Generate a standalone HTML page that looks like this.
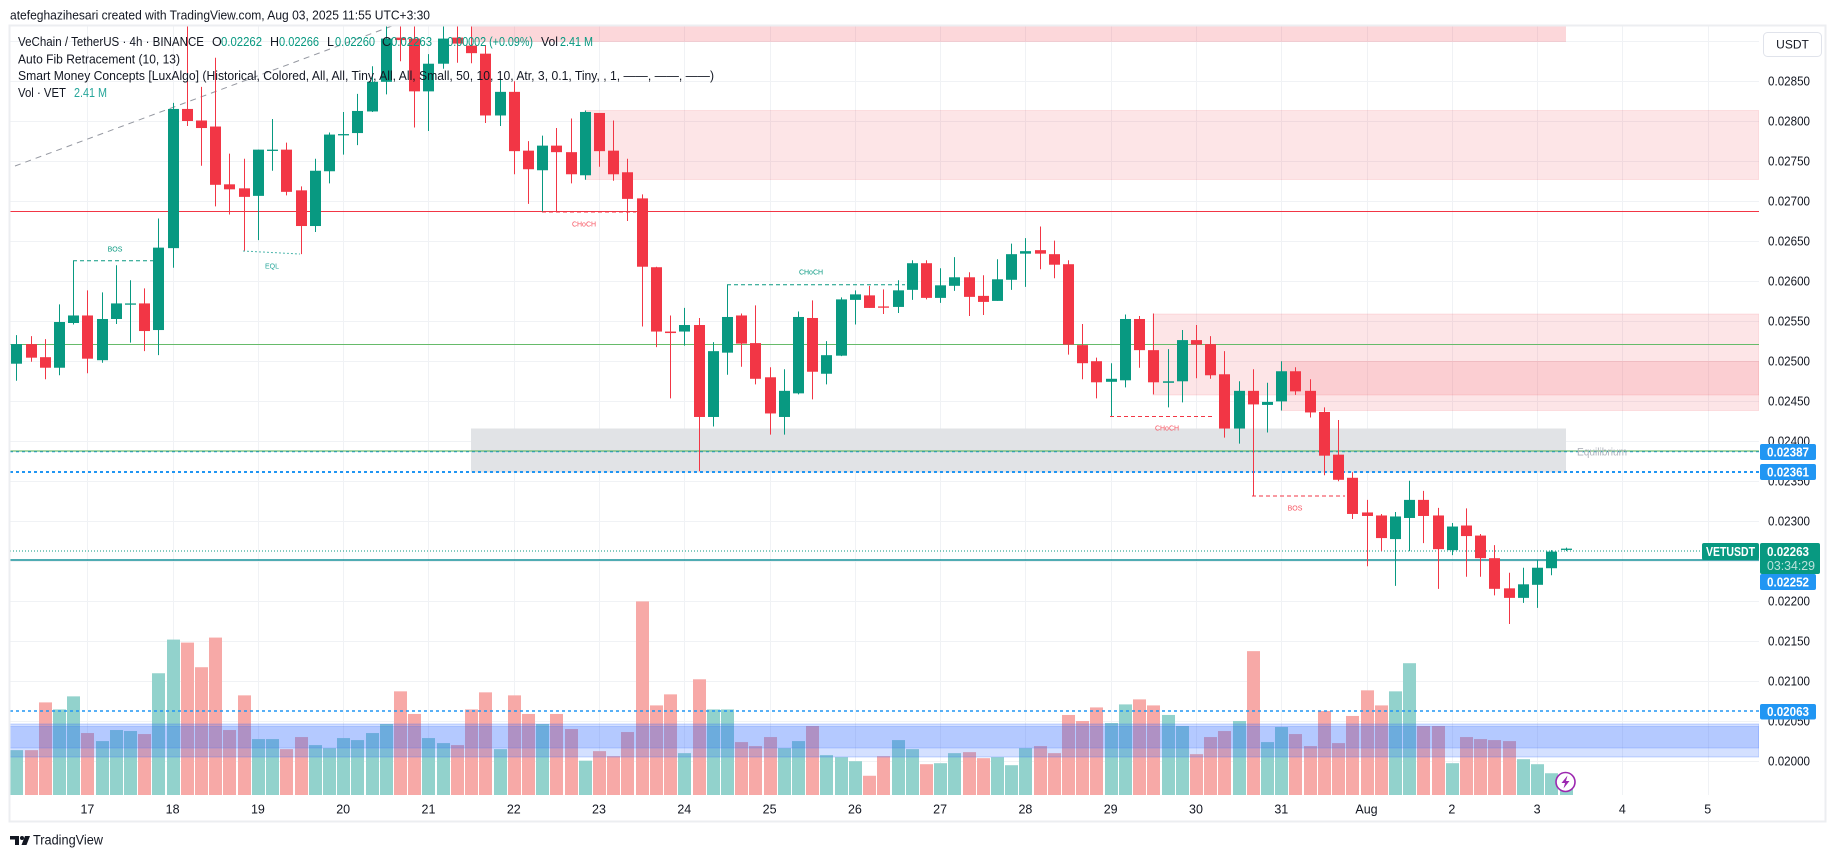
<!DOCTYPE html>
<html><head><meta charset="utf-8">
<style>
html,body{margin:0;padding:0;background:#fff;}
svg{display:block;font-family:"Liberation Sans",sans-serif;}
</style></head><body>
<svg id="s" width="1835" height="858" viewBox="0 0 1835 858" xmlns="http://www.w3.org/2000/svg">
<defs><clipPath id="cp"><rect x="10" y="26" width="1749" height="769"/></clipPath></defs>
<rect width="1835" height="858" fill="#fff"/>
<g id="grid"></g>
<g clip-path="url(#cp)">
  <!-- zones -->
  <rect x="472" y="26" width="1094" height="16" fill="rgba(242,54,69,0.2)"/>
  <rect x="585" y="110.5" width="1174" height="69" fill="rgba(242,54,69,0.13)" stroke="rgba(242,54,69,0.12)"/>
  <rect x="1153" y="314" width="606" height="81" fill="rgba(242,54,69,0.13)" stroke="rgba(242,54,69,0.12)"/>
  <rect x="1281" y="361.5" width="478" height="49" fill="rgba(242,54,69,0.13)" stroke="rgba(242,54,69,0.12)"/>
  <rect x="471" y="428.5" width="1095" height="44" fill="#e1e3e6"/>
  <g id="vol"></g>
  <rect x="10" y="724" width="1749" height="33" fill="rgba(41,98,255,0.2)" stroke="rgba(41,98,255,0.25)"/>
  <rect x="10" y="726.5" width="1749" height="21.5" fill="rgba(41,98,255,0.18)" stroke="rgba(41,98,255,0.2)"/>
  <!-- horizontal lines -->
  <line x1="10" x2="1759" y1="211.5" y2="211.5" stroke="#f23645" stroke-width="1"/>
  <line x1="10" x2="1759" y1="344.5" y2="344.5" stroke="#66bb6a" stroke-width="1"/>
  <line x1="10" x2="1759" y1="451.5" y2="451.5" stroke="#2196f3" stroke-width="1.5" stroke-dasharray="3 3"/>
  <line x1="10" x2="1759" y1="451" y2="451" stroke="#4caf50" stroke-width="1"/>
  <line x1="10" x2="1759" y1="472" y2="472" stroke="#2196f3" stroke-width="2" stroke-dasharray="3 3"/>
  <line x1="10" x2="1702" y1="551" y2="551" stroke="#089981" stroke-width="1" stroke-dasharray="1 2"/>
  <line x1="10" x2="1759" y1="560" y2="560" stroke="#16909a" stroke-width="1.5"/>
  <line x1="10" x2="1759" y1="711" y2="711" stroke="#2196f3" stroke-width="1.5" stroke-dasharray="3 3"/>
  <!-- fib line -->
  <line x1="15" y1="166" x2="392" y2="26" stroke="#9598a1" stroke-width="1" stroke-dasharray="6 5"/>
  <g id="cdl"></g>
  <!-- SMC structures -->
  <line x1="73" x2="154" y1="260.7" y2="260.7" stroke="#089981" stroke-dasharray="4 3"/>
  <line x1="243" x2="300" y1="251" y2="254" stroke="#4db6ac" stroke-dasharray="2 2"/>
  <line x1="542" x2="636" y1="212" y2="212" stroke="#f23645" stroke-dasharray="4 3"/>
  <line x1="727" x2="905" y1="284.8" y2="284.8" stroke="#089981" stroke-dasharray="4 3"/>
  <line x1="1110" x2="1214" y1="416.5" y2="416.5" stroke="#f23645" stroke-dasharray="4 3"/>
  <line x1="1252" x2="1345" y1="496" y2="496" stroke="#f23645" stroke-dasharray="4 3"/>
  <g font-size="7" text-anchor="middle">
    <text x="115" y="251.5" fill="#089981">BOS</text>
    <text x="272" y="268.5" fill="#26a69a">EQL</text>
    <text x="584" y="226.5" fill="#f7525f">CHoCH</text>
    <text x="811" y="274.5" fill="#089981">CHoCH</text>
    <text x="1167" y="430.5" fill="#f7525f">CHoCH</text>
    <text x="1295" y="510.5" fill="#f7525f">BOS</text>
  </g>
  <text x="1577" y="455.5" font-size="11" fill="#b2b5be" textLength="50" lengthAdjust="spacingAndGlyphs">Equilibrium</text>
  <!-- lightning icon -->
  <circle cx="1565.5" cy="782" r="9.5" fill="#fff" stroke="#9c27b0" stroke-width="1.6"/>
  <path d="M1567.5 775.5 L1561.5 783 L1565 783 L1563.5 788.5 L1569.5 781 L1566 781 Z" fill="#9c27b0"/>
</g>
<!-- chart border -->
<rect x="9.5" y="25.5" width="1816" height="796" fill="none" stroke="#eceef1" stroke-width="2"/>

<!-- header -->
<text x="10" y="19.5" font-size="13" fill="#131722" textLength="420" lengthAdjust="spacingAndGlyphs">atefeghazihesari created with TradingView.com, Aug 03, 2025 11:55 UTC+3:30</text>

<!-- legend -->
<g font-size="12.5" lengthAdjust="spacingAndGlyphs">
  <text x="18" y="46" fill="#131722" textLength="186" lengthAdjust="spacingAndGlyphs">VeChain / TetherUS · 4h · BINANCE</text>
  <text x="212" y="46" fill="#131722">O</text>
  <text x="221" y="46" fill="#089981" textLength="41" lengthAdjust="spacingAndGlyphs">0.02262</text>
  <text x="270" y="46" fill="#131722">H</text>
  <text x="279" y="46" fill="#089981" textLength="40" lengthAdjust="spacingAndGlyphs">0.02266</text>
  <text x="327" y="46" fill="#131722">L</text>
  <text x="335" y="46" fill="#089981" textLength="40" lengthAdjust="spacingAndGlyphs">0.02260</text>
  <text x="382" y="46" fill="#131722">C</text>
  <text x="391" y="46" fill="#089981" textLength="41" lengthAdjust="spacingAndGlyphs">0.02263</text>
  <text x="441" y="46" fill="#089981" textLength="92" lengthAdjust="spacingAndGlyphs">+0.00002 (+0.09%)</text>
  <text x="541" y="46" fill="#131722" textLength="17" lengthAdjust="spacingAndGlyphs">Vol</text>
  <text x="560" y="46" fill="#089981" textLength="33" lengthAdjust="spacingAndGlyphs">2.41 M</text>
  <text x="18" y="63.5" fill="#131722" textLength="162" lengthAdjust="spacingAndGlyphs">Auto Fib Retracement (10, 13)</text>
  <text x="18" y="80" fill="#131722" textLength="696" lengthAdjust="spacingAndGlyphs">Smart Money Concepts [LuxAlgo] (Historical, Colored, All, All, Tiny, All, All, Small, 50, 10, 10, Atr, 3, 0.1, Tiny, , 1, ——, ——, ——)</text>
  <text x="18" y="97" fill="#131722" textLength="48" lengthAdjust="spacingAndGlyphs">Vol · VET</text>
  <text x="74" y="97" fill="#26a69a" textLength="33" lengthAdjust="spacingAndGlyphs">2.41 M</text>
</g>

<!-- price axis -->
<rect x="1763.5" y="32.5" width="58" height="24" rx="4" fill="#fff" stroke="#e0e3eb"/>
<text x="1792.5" y="48.5" font-size="12" fill="#131722" text-anchor="middle">USDT</text>
<g font-size="13" fill="#131722">
  <text x="1768" y="85.5" textLength="42" lengthAdjust="spacingAndGlyphs">0.02850</text>
  <text x="1768" y="125.5" textLength="42" lengthAdjust="spacingAndGlyphs">0.02800</text>
  <text x="1768" y="165.5" textLength="42" lengthAdjust="spacingAndGlyphs">0.02750</text>
  <text x="1768" y="205.5" textLength="42" lengthAdjust="spacingAndGlyphs">0.02700</text>
  <text x="1768" y="245.5" textLength="42" lengthAdjust="spacingAndGlyphs">0.02650</text>
  <text x="1768" y="285.5" textLength="42" lengthAdjust="spacingAndGlyphs">0.02600</text>
  <text x="1768" y="325.5" textLength="42" lengthAdjust="spacingAndGlyphs">0.02550</text>
  <text x="1768" y="365.5" textLength="42" lengthAdjust="spacingAndGlyphs">0.02500</text>
  <text x="1768" y="405.5" textLength="42" lengthAdjust="spacingAndGlyphs">0.02450</text>
  <text x="1768" y="445.5" textLength="42" lengthAdjust="spacingAndGlyphs">0.02400</text>
  <text x="1768" y="485.5" textLength="42" lengthAdjust="spacingAndGlyphs">0.02350</text>
  <text x="1768" y="525.5" textLength="42" lengthAdjust="spacingAndGlyphs">0.02300</text>
  <text x="1768" y="565.5" textLength="42" lengthAdjust="spacingAndGlyphs">0.02250</text>
  <text x="1768" y="605.5" textLength="42" lengthAdjust="spacingAndGlyphs">0.02200</text>
  <text x="1768" y="645.5" textLength="42" lengthAdjust="spacingAndGlyphs">0.02150</text>
  <text x="1768" y="685.5" textLength="42" lengthAdjust="spacingAndGlyphs">0.02100</text>
  <text x="1768" y="725.5" textLength="42" lengthAdjust="spacingAndGlyphs">0.02050</text>
  <text x="1768" y="765.5" textLength="42" lengthAdjust="spacingAndGlyphs">0.02000</text>
</g>
<g font-size="13" font-weight="bold" fill="#fff">
  <rect x="1760" y="444" width="56" height="16" rx="2" fill="#2196f3"/>
  <text x="1767" y="456.5" textLength="42" lengthAdjust="spacingAndGlyphs">0.02387</text>
  <rect x="1760" y="464" width="56" height="16" rx="2" fill="#2196f3"/>
  <text x="1767" y="476.5" textLength="42" lengthAdjust="spacingAndGlyphs">0.02361</text>
  <rect x="1702" y="543" width="57" height="17" rx="2" fill="#089981"/>
  <text x="1706" y="556" textLength="49" lengthAdjust="spacingAndGlyphs">VETUSDT</text>
  <rect x="1760" y="543" width="60" height="31" rx="2" fill="#089981"/>
  <text x="1767" y="556" textLength="42" lengthAdjust="spacingAndGlyphs">0.02263</text>
  <text x="1767" y="570" font-weight="normal" fill="rgba(255,255,255,0.72)" textLength="48" lengthAdjust="spacingAndGlyphs">03:34:29</text>
  <rect x="1760" y="574" width="56" height="16" rx="2" fill="#2196f3"/>
  <text x="1767" y="586.5" textLength="42" lengthAdjust="spacingAndGlyphs">0.02252</text>
  <rect x="1760" y="704" width="56" height="15.5" rx="2" fill="#2196f3"/>
  <text x="1767" y="716" textLength="42" lengthAdjust="spacingAndGlyphs">0.02063</text>
</g>

<!-- time axis -->
<g font-size="12.5" fill="#131722" text-anchor="middle">
  <text x="87.4" y="813.5">17</text>
  <text x="172.6" y="813.5">18</text>
  <text x="257.9" y="813.5">19</text>
  <text x="343.2" y="813.5">20</text>
  <text x="428.5" y="813.5">21</text>
  <text x="513.8" y="813.5">22</text>
  <text x="599" y="813.5">23</text>
  <text x="684.3" y="813.5">24</text>
  <text x="769.6" y="813.5">25</text>
  <text x="854.9" y="813.5">26</text>
  <text x="940.1" y="813.5">27</text>
  <text x="1025.4" y="813.5">28</text>
  <text x="1110.7" y="813.5">29</text>
  <text x="1196" y="813.5">30</text>
  <text x="1281.3" y="813.5">31</text>
  <text x="1366.5" y="813.5">Aug</text>
  <text x="1451.8" y="813.5">2</text>
  <text x="1537.1" y="813.5">3</text>
  <text x="1622.4" y="813.5">4</text>
  <text x="1707.7" y="813.5">5</text>
</g>

<!-- TradingView logo -->
<g fill="#131722">
  <path d="M10 836 H19 V845 H15 V839.5 H10 Z"/>
  <circle cx="22" cy="838" r="2"/>
  <path d="M25 836 H30 L26.5 845 H21.5 Z"/>
</g>
<text x="33" y="844.5" font-size="13.5" fill="#131722" textLength="70" lengthAdjust="spacingAndGlyphs">TradingView</text>
</svg>
<script>
(function(){
var NS="http://www.w3.org/2000/svg";
function el(p,t,a){var e=document.createElementNS(NS,t);for(var k in a)e.setAttribute(k,a[k]);p.appendChild(e);return e;}
function X(i){return 16.3+14.213*i;}
function Y(z){return 20+0.5025*z;}
var grid=document.getElementById('grid');
for(var k=-1;k<=17;k++){var y=81+40*k+0.5;el(grid,'line',{x1:10,x2:1759,y1:y,y2:y,stroke:'#f0f2f5','stroke-width':1});}
for(var d=0;d<20;d++){var x=Math.round(X(5+6*d))+0.5;el(grid,'line',{x1:x,x2:x,y1:26,y2:795,stroke:'#f0f2f5','stroke-width':1});}
var D=[
[1,627,645,684,718],[0,629,645,672,680],[0,635,671,692,715],[1,566,601,692,707],[1,479,588,603,606],
[0,538,588,674,703],[1,542,595,677,682],[1,488,564,595,605],[1,518,564,566,642],[0,534,564,619,659],
[1,395,453,617,667],[1,165,177,454,493],[0,-30,177,201,211],[0,133,200,215,290],[0,75,212,328,371],
[0,266,327,337,387],[0,276,335,352,460],[1,258,258,350,438],[1,197,258,260,300],[0,244,258,342,349],
[0,331,339,410,466],[1,276,300,410,422],[1,224,228,301,325],[1,183,227,229,268],[1,147,181,225,249],
[1,92,123,182,183],[1,-30,37,123,148],[0,-30,35,40,82],[0,-30,37,142,214],[1,68,87,142,221],
[1,-30,37,87,97],[0,-30,35,47,85],[0,-30,51,66,86],[0,50,67,190,205],[1,118,143,190,211],
[0,122,143,261,307],[0,241,260,297,366],[1,230,250,299,381],[0,215,250,263,381],[0,196,263,307,325],
[1,180,183,309,318],[0,185,185,261,292],[0,200,260,307,320],[0,276,303,356,400],[0,347,355,491,610],
[0,491,492,620,651],[0,588,620,623,753],[1,573,607,620,648],[0,593,607,790,898],[1,641,659,790,809],
[1,527,591,662,706],[0,584,588,644,690],[0,568,643,714,725],[0,691,711,783,825],[1,695,738,790,825],
[1,580,591,743,745],[0,558,593,700,755],[1,639,667,704,725],[1,552,556,668,669],[1,538,546,557,606],
[0,529,548,573,573],[0,536,570,572,585],[1,518,538,571,583],[1,478,484,537,557],[0,478,484,553,556],
[1,494,528,553,563],[1,472,512,529,539],[0,502,512,551,589],[0,508,549,561,587],[1,476,516,559,559],
[1,445,466,517,537],[1,434,460,465,531],[0,411,458,465,496],[0,439,466,487,514],[0,478,486,646,666],
[0,605,647,683,715],[0,672,679,721,753],[1,683,714,720,789],[1,586,595,717,731],[0,589,595,657,692],
[0,584,657,721,745],[1,655,719,722,771],[1,617,637,719,761],[0,607,637,646,713],[0,629,645,707,714],
[0,659,705,813,831],[1,719,738,813,843],[0,695,738,765,947],[1,722,760,766,821],[1,679,699,759,777],
[0,691,699,739,746],[0,715,738,781,791],[0,771,780,867,906],[0,796,865,915,918],[0,900,911,983,993],
[0,955,980,987,1087],[0,983,986,1031,1057],[1,979,988,1033,1126],[1,917,955,991,1057],[0,937,955,987,1041],
[0,971,986,1053,1132],[1,1001,1008,1055,1065],[0,972,1006,1027,1108],[0,1023,1026,1071,1108],[0,1045,1071,1132,1145],
[0,1100,1131,1150,1202],[1,1090,1123,1150,1160],[1,1075,1090,1124,1170],[1,1055,1058,1091,1105],[1,1050,1052,1054,1057]
];
var V=[1453,1453,1358,1372,1346,1419,1435,1413,1415,1421,1300,1233,1239,1288,1229,1413,1344,1431,
1431,1451,1427,1443,1449,1429,1433,1419,1401,1336,1381,1429,1439,1443,1372,1338,1451,1344,1381,
1401,1381,1411,1474,1455,1465,1417,1157,1364,1342,1459,1312,1372,1372,1437,1445,1427,1449,1435,
1405,1463,1467,1475,1504,1465,1433,1451,1481,1479,1459,1457,1469,1467,1483,1449,1445,1459,1383,
1395,1368,1399,1362,1352,1364,1383,1405,1461,1427,1415,1395,1256,1437,1407,1421,1445,1375,
1439,1385,1334,1364,1336,1280,1405,1405,1479,1427,1431,1433,1435,1471,1481,1499,1530];
var cg=document.getElementById('cdl'),vg=document.getElementById('vol');
for(var i=0;i<D.length;i++){
  var d=D[i],col=d[0]?'#089981':'#f23645',n=Math.round(X(i)),cx=n+0.5;
  el(cg,'line',{x1:cx,x2:cx,y1:Y(d[1]),y2:Y(d[4]),stroke:col,'stroke-width':1});
  var t=Y(d[2]),b=Y(d[3]);
  el(cg,'rect',{x:n-5,y:t,width:11,height:Math.max(1.3,b-t),fill:col});
  var vt=Y(V[i]);
  el(vg,'rect',{x:n-6,y:vt,width:13,height:795-vt,fill:d[0]?'#92d2cc':'#f7a9a7'});
}
})();
</script>
</body></html>
